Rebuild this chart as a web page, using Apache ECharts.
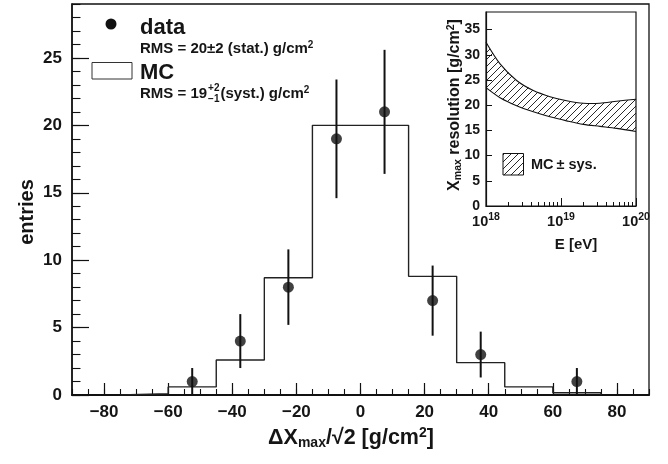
<!DOCTYPE html>
<html><head><meta charset="utf-8">
<script src="https://cdn.jsdelivr.net/npm/echarts@6/dist/echarts.min.js"></script>
<style>html,body{margin:0;padding:0;background:#fff}#c{width:668px;height:464px}</style>
</head><body><div id="c"></div>
<script>
// ---- data ----
const binEdges = [-75, -60, -45, -30, -15, 0, 15, 30, 45, 60, 75];
const mcCounts = [0.1, 0.6, 2.6, 8.7, 20, 20, 8.8, 2.4, 0.6, 0.17];
const dataX = [-52.5, -37.5, -22.5, -7.5, 7.5, 22.5, 37.5, 67.5];
const dataY = [1, 4, 8, 19, 21, 7, 3, 1];
const dataErr = [1, 2, 2.8, 4.4, 4.6, 2.6, 1.7, 1];
const xTickLabels = [-80, -60, -40, -20, 0, 20, 40, 60, 80];
const yTickLabels = [0, 5, 10, 15, 20, 25];
const insetE = [1e18, 1.54e18, 2.56e18, 4.28e18, 7.13e18, 1.19e19, 1.99e19, 3.31e19, 5.52e19, 1e20];
const insetUpper = [32.5, 28.2, 24.9, 22.9, 21.7, 20.9, 20.4, 20.4, 20.8, 21.2];
const insetLower = [23.5, 21.5, 19.9, 18.7, 17.7, 16.9, 16.2, 15.8, 15.4, 14.8];
const insetYTicks = [0, 5, 10, 15, 20, 25, 30, 35];
const insetXTicks = [1e18, 1e19, 1e20];
const insetXMinor = [2e18, 3e18, 4e18, 5e18, 6e18, 7e18, 8e18, 9e18, 2e19, 3e19, 4e19, 5e19, 6e19, 7e19, 8e19, 9e19];

// ---- helpers ----
const FF = '"Liberation Sans", Arial, sans-serif';
const TXT = '#151515';
const LN = '#111';
function hatchCanvas() {
  const s = 7, c = document.createElement('canvas');
  c.width = s; c.height = s;
  const g = c.getContext('2d');
  g.strokeStyle = '#111'; g.lineWidth = 0.9;
  g.beginPath();
  g.moveTo(0, s); g.lineTo(s, 0);
  g.moveTo(-1, 1); g.lineTo(1, -1);
  g.moveTo(s - 1, s + 1); g.lineTo(s + 1, s - 1);
  g.stroke();
  return c;
}
const HATCH = hatchCanvas();
const mctx = document.createElement('canvas').getContext('2d');
function measure(t, font) { mctx.font = font; return mctx.measureText(t).width; }

const histPts = [[binEdges[0], 0]];
mcCounts.forEach((v, i) => { histPts.push([binEdges[i], v]); histPts.push([binEdges[i + 1], v]); });
histPts.push([binEdges[binEdges.length - 1], 0]);

const G0 = {left: 72, right: 19, top: 4, bottom: 69};
const G1 = {left: 486, right: 32, top: 12, bottom: 258};

const lblFont = {fontFamily: FF, fontWeight: 'bold', color: TXT};

// legend line 2 layout
const f15 = 'bold 15px "Liberation Sans"';
const w1 = measure('RMS = 19', f15);
const wS = measure('+2', 'bold 10px "Liberation Sans"');
const lx = 140;

const chart = echarts.init(document.getElementById('c'));
chart.setOption({
  animation: false,
  backgroundColor: '#fff',
  grid: [
    Object.assign({show: true, borderColor: LN, borderWidth: 1.3, backgroundColor: '#fff'}, G0),
    Object.assign({show: true, borderColor: LN, borderWidth: 1.2, backgroundColor: '#fff'}, G1),
    Object.assign({show: false}, G0),
    Object.assign({show: false}, G1)
  ],
  xAxis: [
    {gridIndex: 0, type: 'value', min: -90, max: 90, position: 'bottom',
     axisLine: {show: true, onZero: false, lineStyle: {color: LN, width: 2}},
     axisTick: {show: true, inside: true, length: 12, customValues: xTickLabels, lineStyle: {color: LN, width: 1.2}},
     axisLabel: Object.assign({show: true, customValues: xTickLabels, fontSize: 17, margin: 9,
       formatter: v => (v < 0 ? '\u2212' + Math.abs(v) : String(v))}, lblFont),
     splitLine: {show: false}},
    {gridIndex: 1, type: 'log', logBase: 10, min: 1e18, max: 1e20, position: 'bottom',
     axisLine: {show: true, onZero: false, lineStyle: {color: LN, width: 1.2}},
     axisTick: {show: true, inside: true, length: 8, customValues: insetXTicks, lineStyle: {color: LN, width: 1}},
     axisLabel: Object.assign({show: true, customValues: insetXTicks, margin: 6,
       formatter: v => '{b|10}{s|' + Math.round(Math.log10(v)) + '}',
       rich: {b: {fontSize: 14.5, fontFamily: FF, fontWeight: 'bold', color: TXT},
              s: {fontSize: 10.5, fontFamily: FF, fontWeight: 'bold', color: TXT, padding: [0, 0, 9, 0]}}}, lblFont),
     splitLine: {show: false}},
    {gridIndex: 2, type: 'value', min: -90, max: 90, interval: 5, position: 'bottom',
     axisLine: {show: false, onZero: false}, axisLabel: {show: false}, splitLine: {show: false},
     axisTick: {show: true, inside: true, length: 6, lineStyle: {color: LN, width: 1.1}}},
    {gridIndex: 3, type: 'log', logBase: 10, min: 1e18, max: 1e20, position: 'bottom',
     axisLine: {show: false, onZero: false}, axisLabel: {show: false}, splitLine: {show: false},
     axisTick: {show: true, inside: true, length: 4, customValues: insetXMinor, lineStyle: {color: LN, width: 1}}}
  ],
  yAxis: [
    {gridIndex: 0, type: 'value', min: 0, max: 29, position: 'left',
     axisLine: {show: true, onZero: false, lineStyle: {color: LN, width: 1.5}},
     axisTick: {show: true, inside: true, length: 17, customValues: yTickLabels, lineStyle: {color: LN, width: 1.2}},
     axisLabel: Object.assign({show: true, customValues: yTickLabels, fontSize: 17, margin: 10}, lblFont),
     splitLine: {show: false}},
    {gridIndex: 1, type: 'value', min: 0, max: 38.5, position: 'left',
     axisLine: {show: true, onZero: false, lineStyle: {color: LN, width: 1.2}},
     axisTick: {show: true, inside: true, length: 6, customValues: insetYTicks, lineStyle: {color: LN, width: 1}},
     axisLabel: Object.assign({show: true, customValues: insetYTicks, fontSize: 14, margin: 6}, lblFont),
     splitLine: {show: false}},
    {gridIndex: 2, type: 'value', min: 0, max: 29, interval: 1, position: 'left',
     axisLine: {show: false, onZero: false}, axisLabel: {show: false}, splitLine: {show: false},
     axisTick: {show: true, inside: true, length: 8.5, lineStyle: {color: LN, width: 1.1}}},
    {gridIndex: 3, type: 'value', min: 0, max: 38.5, show: false, axisLine: {onZero: false}}
  ],
  series: [
    {type: 'line', xAxisIndex: 0, yAxisIndex: 0, data: histPts, symbol: 'none',
     lineStyle: {color: '#222', width: 1.4}, z: 2},
    {type: 'custom', xAxisIndex: 0, yAxisIndex: 0, z: 3,
     data: dataX.map((x, i) => [x, dataY[i], dataErr[i]]),
     encode: {x: 0, y: 1},
     renderItem: (p, api) => {
       const x = api.value(0), y = api.value(1), e = api.value(2);
       const a = api.coord([x, Math.max(0, y - e)]), b = api.coord([x, y + e]);
       return {type: 'line', shape: {x1: a[0], y1: a[1], x2: b[0], y2: b[1]},
               style: {stroke: LN, lineWidth: 2}};
     }},
    {type: 'scatter', xAxisIndex: 0, yAxisIndex: 0, z: 4, symbol: 'circle', symbolSize: 11,
     data: dataX.map((x, i) => [x, dataY[i]]), itemStyle: {color: LN}},
    {type: 'custom', xAxisIndex: 1, yAxisIndex: 1, z: 3,
     data: [[insetE[0], insetLower[0]]],
     encode: {x: 0, y: 1},
     renderItem: (p, api) => {
       const up = insetE.map((e, i) => api.coord([e, insetUpper[i]]));
       const lo = insetE.map((e, i) => api.coord([e, insetLower[i]]));
       return {type: 'group', children: [
         {type: 'polygon', shape: {points: up.concat(lo.slice().reverse()), smooth: 0},
          style: {fill: {image: HATCH, repeat: 'repeat'}, stroke: null}},
         {type: 'polyline', shape: {points: up, smooth: 0.3}, style: {stroke: LN, lineWidth: 1.1, fill: null}},
         {type: 'polyline', shape: {points: lo, smooth: 0.3}, style: {stroke: LN, lineWidth: 1.1, fill: null}}
       ]};
     }}
  ],
  graphic: [
    // main legend
    {type: 'circle', shape: {cx: 111, cy: 24, r: 5.5}, style: {fill: LN}, z: 10},
    {type: 'text', x: lx, y: 28, style: {text: 'data', font: 'bold 22px "Liberation Sans"', fill: TXT, align: 'left', verticalAlign: 'middle'}, z: 10},
    {type: 'text', x: lx, y: 48.5, z: 10, style: {text: '{t|RMS = 20\u00b12 (stat.) g/cm}{s|2}', align: 'left', verticalAlign: 'middle',
      rich: {t: {fontSize: 15, fontFamily: FF, fontWeight: 'bold', fill: TXT},
             s: {fontSize: 10, fontFamily: FF, fontWeight: 'bold', fill: TXT, padding: [0, 0, 7, 0]}}}},
    {type: 'rect', shape: {x: 92, y: 62.5, width: 40, height: 16.5}, style: {fill: '#fff', stroke: '#333', lineWidth: 1}, z: 10},
    {type: 'text', x: lx, y: 73, style: {text: 'MC', font: 'bold 22px "Liberation Sans"', fill: TXT, align: 'left', verticalAlign: 'middle'}, z: 10},
    {type: 'text', x: lx, y: 93.5, style: {text: 'RMS = 19', font: f15, fill: TXT, align: 'left', verticalAlign: 'middle'}, z: 10},
    {type: 'text', x: lx + w1 + 1, y: 88, style: {text: '+2', font: 'bold 10px "Liberation Sans"', fill: TXT, align: 'left', verticalAlign: 'middle'}, z: 10},
    {type: 'text', x: lx + w1 + 1, y: 99, style: {text: '\u22121', font: 'bold 10px "Liberation Sans"', fill: TXT, align: 'left', verticalAlign: 'middle'}, z: 10},
    {type: 'text', x: lx + w1 + wS + 2, y: 93.5, z: 10, style: {text: '{t|(syst.) g/cm}{s|2}', align: 'left', verticalAlign: 'middle',
      rich: {t: {fontSize: 15, fontFamily: FF, fontWeight: 'bold', fill: TXT},
             s: {fontSize: 10, fontFamily: FF, fontWeight: 'bold', fill: TXT, padding: [0, 0, 7, 0]}}}},
    // axis titles
    {type: 'text', x: 27, y: 212, rotation: Math.PI / 2, style: {text: 'entries', font: 'bold 20px "Liberation Sans"', fill: TXT, align: 'center', verticalAlign: 'middle'}, z: 10},
    {type: 'text', x: 351, y: 438, z: 10, style: {text: '{b|\u0394X}{sub|max}{b|/\u221a2 [g/cm}{sup|2}{b|]}', align: 'center', verticalAlign: 'middle',
      rich: {b: {fontSize: 21.5, fontFamily: FF, fontWeight: 'bold', fill: TXT},
             sub: {fontSize: 14, fontFamily: FF, fontWeight: 'bold', fill: TXT, padding: [10, 0, 0, 0]},
             sup: {fontSize: 14, fontFamily: FF, fontWeight: 'bold', fill: TXT, padding: [0, 0, 10, 0]}}}},
    // inset titles / legend
    {type: 'text', x: 455, y: 105, rotation: Math.PI / 2, z: 10, style: {text: '{b|X}{sub|max}{b| resolution [g/cm}{sup|2}{b|]}', align: 'center', verticalAlign: 'middle',
      rich: {b: {fontSize: 16, fontFamily: FF, fontWeight: 'bold', fill: TXT},
             sub: {fontSize: 10.5, fontFamily: FF, fontWeight: 'bold', fill: TXT, padding: [7, 0, 0, 0]},
             sup: {fontSize: 10.5, fontFamily: FF, fontWeight: 'bold', fill: TXT, padding: [0, 0, 7, 0]}}}},
    {type: 'text', x: 576, y: 245, style: {text: 'E [eV]', font: 'bold 15px "Liberation Sans"', fill: TXT, align: 'center', verticalAlign: 'middle'}, z: 10},
    {type: 'rect', shape: {x: 503, y: 153.5, width: 20.5, height: 21.5}, style: {fill: {image: HATCH, repeat: 'repeat'}, stroke: LN, lineWidth: 1}, z: 10},
    {type: 'text', x: 531, y: 164.5, style: {text: 'MC\u2009\u00b1 sys.', font: 'bold 14.5px "Liberation Sans"', fill: TXT, align: 'left', verticalAlign: 'middle'}, z: 10}
  ]
});
</script>
</body></html>
